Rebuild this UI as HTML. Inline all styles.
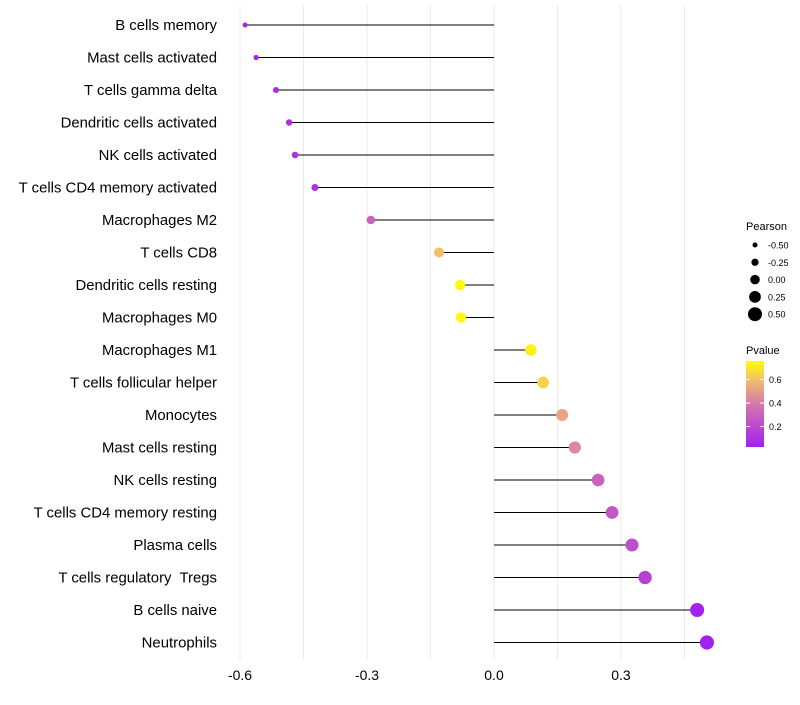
<!DOCTYPE html>
<html><head><meta charset="utf-8"><style>
body{margin:0;background:#fff;}
svg text{font-family:"Liberation Sans",sans-serif;}
</style></head><body>
<svg id="chart" width="800" height="700"></svg>
<script>
const categories=["B cells memory","Mast cells activated","T cells gamma delta","Dendritic cells activated","NK cells activated","T cells CD4 memory activated","Macrophages M2","T cells CD8","Dendritic cells resting","Macrophages M0","Macrophages M1","T cells follicular helper","Monocytes","Mast cells resting","NK cells resting","T cells CD4 memory resting","Plasma cells","T cells regulatory\u00a0 Tregs","B cells naive","Neutrophils"];
const pearson=[-0.588,-0.562,-0.515,-0.484,-0.470,-0.423,-0.291,-0.130,-0.080,-0.078,0.087,0.116,0.161,0.191,0.246,0.279,0.326,0.357,0.480,0.503];
const pvalue=[0.04,0.05,0.07,0.09,0.1,0.11,0.3,0.6,0.74,0.74,0.72,0.65,0.52,0.44,0.3,0.26,0.22,0.16,0.04,0.04];
const xTicks=[-0.6,-0.3,0.0,0.3];
const xTickLabels=["-0.6","-0.3","0.0","0.3"];
const sizeLegend=[-0.5,-0.25,0,0.25,0.5];
const sizeLegendLabels=["-0.50","-0.25","0.00","0.25","0.50"];
const colorLegendTicks=[0.2,0.4,0.6];

const NS="http://www.w3.org/2000/svg";
const svg=document.getElementById('chart');
function mk(tag,attrs,parent){const e=document.createElementNS(NS,tag);for(const k in attrs)e.setAttribute(k,attrs[k]);(parent||svg).appendChild(e);return e;}
const x=v=>494+(v)*423.3;
const y=i=>25+i*32.5;
const r=v=>Math.sqrt(Math.max(1,29.7+40.3*v));
const pMin=0.026,pMax=0.757;
const stops=[[0,[160,32,240]],[0.5,[214,120,170]],[0.78,[242,190,110]],[1,[255,255,0]]];
function col(p){let t=Math.max(0,Math.min(1,(p-pMin)/(pMax-pMin)));for(let i=1;i<stops.length;i++){if(t<=stops[i][0]){const a=stops[i-1],b=stops[i];const f=(t-a[0])/(b[0]-a[0]);const c=a[1].map((v,k)=>Math.round(v+(b[1][k]-v)*f));return `rgb(${c})`;}}return 'rgb(255,255,0)';}

for(let v=-0.6;v<=0.46;v+=0.15){
  const g=mk('line',{x1:x(v),x2:x(v),y1:5,y2:660,stroke:'#ebebeb','stroke-width':1});
  
  
}
xTicks.forEach((v,i)=>{
  const t=mk('text',{x:x(v),y:680,'font-size':14,'text-anchor':'middle',fill:'#000'});
  t.textContent=xTickLabels[i];
  
  
});
categories.forEach((c,i)=>{
  const t=mk('text',{x:217,y:y(i)+5,'font-size':14.9,'text-anchor':'end',fill:'#000'});
  t.textContent=c;
  
  
  const l=mk('line',{x1:x(0),x2:x(pearson[i]),y1:y(i),y2:y(i),stroke:'#000','stroke-width':1});
  
  
  const d=mk('circle',{cx:x(pearson[i]),cy:y(i),r:r(pearson[i]),fill:col(pvalue[i])});
  
  
});
const lt=mk('text',{x:746,y:230,'font-size':11});
lt.textContent='Pearson';


sizeLegend.forEach((v,i)=>{
  const cy=245+i*17.3;
  const c=mk('circle',{cx:755,cy:cy,r:2.5+(v+0.5)*4.5,fill:'#000'});
  
  
  const t=mk('text',{x:768,y:cy+3.5,'font-size':9});
  t.textContent=sizeLegendLabels[i];
  
  
});
const ct=mk('text',{x:746,y:354,'font-size':11});
ct.textContent='Pvalue';


const defs=mk('defs',{});
const lg=mk('linearGradient',{id:'pg',x1:0,y1:1,x2:0,y2:0},defs);
for(let k=0;k<=20;k++){mk('stop',{offset:k/20,'stop-color':col(pMin+(pMax-pMin)*k/20)},lg);}
const cb=mk('rect',{x:746,y:361,width:18,height:86,fill:'url(#pg)'});


const py=p=>447-(p-pMin)/(pMax-pMin)*86;
colorLegendTicks.forEach(p=>{
  mk('line',{x1:746,x2:750,y1:py(p),y2:py(p),stroke:'#fff','stroke-width':1});
  mk('line',{x1:760,x2:764,y1:py(p),y2:py(p),stroke:'#fff','stroke-width':1});
  const t=mk('text',{x:769,y:py(p)+3.5,'font-size':9});
  t.textContent=p.toFixed(1);
  
  
});
</script>
</body></html>
